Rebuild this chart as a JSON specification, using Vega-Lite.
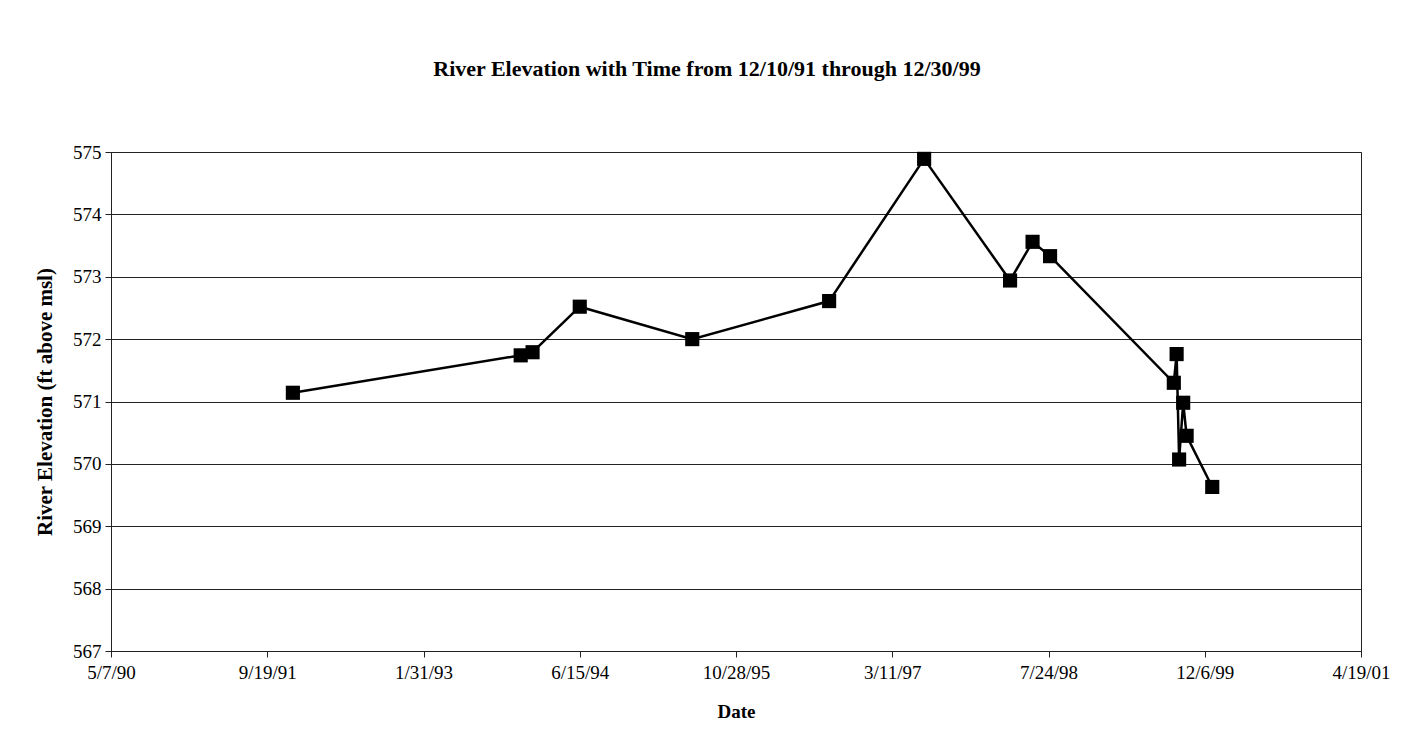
{
  "$schema": "https://vega.github.io/schema/vega-lite/v6.json",
  "width": 1250,
  "height": 499,
  "autosize": {"type": "none"},
  "padding": {"left": 111, "top": 152, "right": 48, "bottom": 102},
  "background": "white",
  "title": {
    "text": "River Elevation with Time from 12/10/91 through 12/30/99",
    "font": "Liberation Serif",
    "fontSize": 22,
    "fontWeight": "bold",
    "color": "black",
    "anchor": "middle",
    "dx": -29,
    "offset": 62
  },
  "data": {
    "values": [
      {"date": "1991-12-10", "elev": 571.14},
      {"date": "1993-12-08", "elev": 571.74},
      {"date": "1994-01-15", "elev": 571.79},
      {"date": "1994-06-15", "elev": 572.52},
      {"date": "1995-06-10", "elev": 572.0},
      {"date": "1996-08-21", "elev": 572.61},
      {"date": "1997-06-21", "elev": 574.89},
      {"date": "1998-03-23", "elev": 572.94},
      {"date": "1998-06-03", "elev": 573.56},
      {"date": "1998-07-29", "elev": 573.33},
      {"date": "1999-08-29", "elev": 571.3},
      {"date": "1999-09-07", "elev": 571.76},
      {"date": "1999-09-15", "elev": 570.07},
      {"date": "1999-09-28", "elev": 570.98},
      {"date": "1999-10-09", "elev": 570.45},
      {"date": "1999-12-30", "elev": 569.63}
    ]
  },
  "encoding": {
    "x": {
      "field": "date",
      "type": "temporal",
      "scale": {
        "type": "utc",
        "domain": [
          {"year": 1990, "month": 5, "date": 7, "utc": true},
          {"year": 2001, "month": 4, "date": 19, "utc": true}
        ],
        "nice": false
      },
      "axis": {
        "title": "Date",
        "labelExpr": "utcFormat(datum.value, '%-m/%-d/%y')",
        "values": [
          {"year": 1990, "month": 5, "date": 7, "utc": true},
          {"year": 1991, "month": 9, "date": 19, "utc": true},
          {"year": 1993, "month": 1, "date": 31, "utc": true},
          {"year": 1994, "month": 6, "date": 15, "utc": true},
          {"year": 1995, "month": 10, "date": 28, "utc": true},
          {"year": 1997, "month": 3, "date": 11, "utc": true},
          {"year": 1998, "month": 7, "date": 24, "utc": true},
          {"year": 1999, "month": 12, "date": 6, "utc": true},
          {"year": 2001, "month": 4, "date": 19, "utc": true}
        ],
        "grid": false,
        "labelPadding": 6,
        "titlePadding": 20,
        "labelFlush": false,
        "labelOverlap": false
      }
    },
    "y": {
      "field": "elev",
      "type": "quantitative",
      "scale": {"domain": [567, 575], "nice": false, "zero": false},
      "axis": {
        "title": "River Elevation (ft above msl)",
        "titleFontSize": 21,
        "values": [567, 568, 569, 570, 571, 572, 573, 574, 575],
        "format": "d",
        "grid": true,
        "labelPadding": 4,
        "titlePadding": 17
      }
    }
  },
  "layer": [
    {
      "mark": {"type": "line", "color": "black", "strokeWidth": 2.5}
    },
    {
      "mark": {"type": "point", "shape": "square", "filled": true, "size": 200, "color": "black", "opacity": 1}
    }
  ],
  "config": {
    "view": {"stroke": "#222", "strokeWidth": 1},
    "axis": {
      "labelFont": "Liberation Serif",
      "labelFontSize": 19,
      "labelColor": "black",
      "titleFont": "Liberation Serif",
      "titleFontSize": 19,
      "titleFontWeight": "bold",
      "titleColor": "black",
      "domainColor": "#222",
      "tickColor": "#222",
      "tickSize": 6,
      "gridColor": "#222",
      "gridOpacity": 1,
      "gridWidth": 1
    }
  }
}
